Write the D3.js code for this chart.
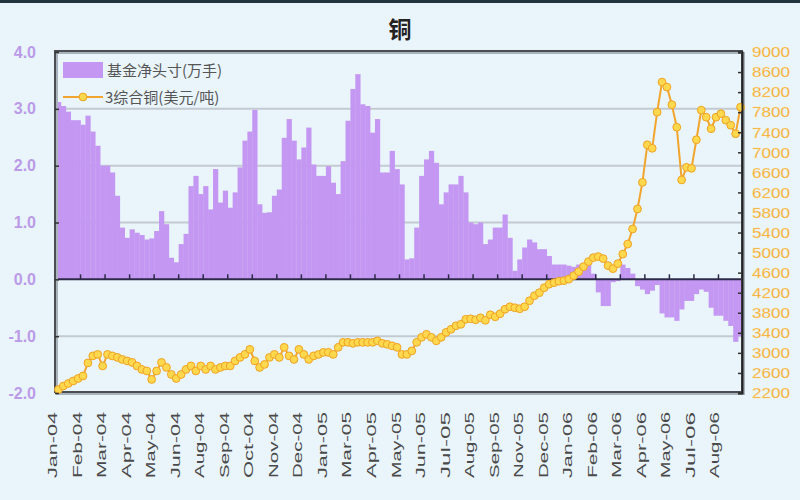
<!DOCTYPE html>
<html><head><meta charset="utf-8">
<script src="https://cdn.jsdelivr.net/npm/d3@7/dist/d3.min.js"></script>
<style>
html,body{margin:0;padding:0;background:#e9f4fb;}
svg{display:block;}
</style></head>
<body>
<svg id="chart" width="800" height="500"></svg>
<script>
// ---------- data ----------
const title = "铜";
const seriesNames = ["基金净头寸(万手)", "3综合铜(美元/吨)"];
// weekly fund net position (10k lots)
const netPosition = [
 3.12,3.05,2.95,2.80,2.80,2.72,2.88,2.60,2.35,2.00,
 2.00,1.88,1.47,0.91,0.73,0.88,0.82,0.78,0.70,0.72,
 0.85,1.20,0.97,0.38,0.30,0.62,0.80,1.64,1.82,1.50,
 1.64,1.23,1.94,1.35,1.56,1.26,1.53,1.97,2.44,2.60,
 2.98,1.32,1.17,1.18,1.47,1.58,2.49,2.82,2.44,2.11,
 2.32,2.67,2.02,1.82,1.82,1.99,1.70,1.50,2.08,2.79,
 3.35,3.61,3.08,3.05,2.58,2.82,1.88,1.88,2.26,1.94,
 1.67,0.35,0.37,0.91,1.82,2.11,2.26,2.05,1.32,1.53,
 1.67,1.67,1.82,1.53,1.00,0.97,1.00,0.62,0.70,0.91,
 0.91,1.14,0.73,0.15,0.35,0.56,0.70,0.65,0.53,0.53,
 0.41,0.26,0.26,0.26,0.24,0.22,0.26,0.22,0.29,0.10,
 -0.23,-0.47,-0.47,-0.05,-0.03,0.26,0.20,0.10,-0.12,-0.18,
 -0.26,-0.20,-0.10,-0.60,-0.67,-0.67,-0.73,-0.53,-0.38,-0.38,
 -0.26,-0.18,-0.22,-0.50,-0.64,-0.64,-0.73,-0.82,-1.10,-1.00
];
// weekly LME 3-month copper (USD/t)
const copperPrice = [
 2270,2340,2390,2440,2490,2540,2800,2940,2970,2740,
 2970,2940,2910,2870,2840,2810,2740,2670,2640,2470,
 2640,2810,2710,2570,2490,2570,2670,2740,2640,2740,
 2670,2740,2670,2710,2740,2740,2840,2910,2970,3070,
 2840,2710,2770,2910,2970,2910,3110,2940,2870,3070,
 2970,2870,2940,2970,3010,3010,2970,3110,3210,3210,
 3190,3210,3210,3210,3210,3240,3190,3170,3140,3110,
 2970,2970,3040,3210,3310,3370,3310,3240,3310,3410,
 3470,3540,3570,3670,3680,3660,3700,3650,3760,3720,
 3780,3870,3920,3900,3880,3920,4040,4140,4200,4300,
 4370,4400,4430,4440,4470,4540,4620,4720,4820,4900,
 4920,4880,4740,4680,4780,4970,5170,5470,5870,6400,
 7150,7080,7800,8400,8300,7950,7500,6450,6700,6680,
 7250,7840,7700,7470,7700,7770,7640,7540,7370,7900
];
const xTickLabels = ["Jan-04","Feb-04","Mar-04","Apr-04","May-04","Jun-04","Aug-04","Sep-04","Oct-04","Nov-04","Dec-04","Jan-05","Mar-05","Apr-05","May-05","Jun-05","Jul-05","Aug-05","Sep-05","Nov-05","Dec-05","Jan-06","Feb-06","Mar-06","Apr-06","May-06","Jul-06","Aug-06"];
const leftTicks = [-2,-1,0,1,2,3,4];
const rightTicks = [2200,2600,3000,3400,3800,4200,4600,5000,5400,5800,6200,6600,7000,7400,7800,8200,8600,9000];

// ---------- layout ----------
const L = 56, R = 743, T = 52, B = 393;
const barColor = "#c497f2";
const lineColor = "#f2a52c";
const cjk = "'Noto Sans CJK SC','Noto Sans',sans-serif";

const svg = d3.select("#chart");
svg.append("rect").attr("width",800).attr("height",500).attr("fill","#e9f4fb");
svg.append("rect").attr("width",800).attr("height",3).attr("fill","#22343e");

const x = d3.scaleBand().domain(d3.range(netPosition.length)).range([L,R]).padding(0);
const yL = d3.scaleLinear().domain([-2,4]).range([B,T]);
const yR = d3.scaleLinear().domain([2200,9000]).range([B,T]);
const bw = x.bandwidth();

// title
svg.append("text").attr("x",400).attr("y",38).attr("text-anchor","middle")
  .attr("font-family",cjk).attr("font-size",23).attr("font-weight","bold").attr("fill","#222").text(title);

// gridlines
svg.append("g").selectAll("line").data([-1,1,2,3]).join("line")
  .attr("x1",L).attr("x2",R).attr("y1",d=>yL(d)).attr("y2",d=>yL(d))
  .attr("stroke","#c3cad2").attr("stroke-width",2);

// bars
svg.append("g").selectAll("rect").data(netPosition).join("rect")
  .attr("x",(d,i)=>x(i)).attr("width",bw+0.3)
  .attr("y",d=>Math.min(yL(d),yL(0))).attr("height",d=>Math.abs(yL(d)-yL(0)))
  .attr("fill",barColor);

// zero axis with ticks every 5 weeks
svg.append("line").attr("x1",L).attr("x2",R).attr("y1",yL(0)).attr("y2",yL(0))
  .attr("stroke","#2c2a48").attr("stroke-width",2);
svg.append("g").selectAll("line").data(d3.range(0,netPosition.length,5)).join("line")
  .attr("x1",d=>x(d)).attr("x2",d=>x(d)).attr("y1",yL(0)).attr("y2",yL(0)-5)
  .attr("stroke","#2c2a48").attr("stroke-width",1.5);

// frame with shadow
svg.append("rect").attr("x",L+1).attr("y",T+1).attr("width",R-L).attr("height",B-T)
  .attr("fill","none").attr("stroke","#a9b3bb").attr("stroke-width",2);
svg.append("rect").attr("x",L-1).attr("y",T-1).attr("width",R-L).attr("height",B-T)
  .attr("fill","none").attr("stroke","#4a4d52").attr("stroke-width",2);

// line + markers
const line = d3.line().x((d,i)=>x(i)+bw/2).y(d=>yR(d));
svg.append("path").datum(copperPrice).attr("d",line).attr("fill","none")
  .attr("stroke",lineColor).attr("stroke-width",2);
svg.append("g").selectAll("circle").data(copperPrice).join("circle")
  .attr("cx",(d,i)=>x(i)+bw/2).attr("cy",d=>yR(d)).attr("r",3.9)
  .attr("fill","#ffd84e").attr("stroke","#f0a324").attr("stroke-width",1);

// left axis
const gl = svg.append("g").attr("transform",`translate(${L-1},0)`)
  .call(d3.axisLeft(yL).tickValues(leftTicks).tickFormat(d=>d.toFixed(1)).tickSize(-4).tickPadding(19));
gl.select(".domain").remove();
gl.selectAll(".tick line").attr("stroke","#333").attr("stroke-width",1.5);
gl.selectAll("text").attr("font-family","Arial, 'Liberation Sans', sans-serif").attr("font-size",16)
  .attr("font-weight","bold").attr("fill","#bb9be8");

// right axis
const gr = svg.append("g").attr("transform",`translate(${R-1},0)`)
  .call(d3.axisRight(yR).tickValues(rightTicks).tickSize(-4).tickPadding(10).tickFormat(d=>String(d)));
gr.select(".domain").attr("stroke","#222").attr("stroke-width",2);
gr.selectAll(".tick line").attr("stroke","#333").attr("stroke-width",1.5);
gr.selectAll("text").attr("font-family","'Liberation Sans Narrow', Arial, sans-serif").attr("font-size",15)
  .attr("fill","#f2a428").attr("textLength",38).attr("lengthAdjust","spacingAndGlyphs")
  .attr("stroke","#ffe6a8").attr("stroke-width",0.3);

// x labels (every 5 weeks)
svg.append("g").selectAll("text").data(xTickLabels).join("text")
  .attr("transform",(d,k)=>`translate(${x(k*5)+1},412) rotate(-90)`)
  .attr("text-anchor","end")
  .attr("font-family","Arial, 'Liberation Sans', sans-serif").attr("font-size",13)
  .attr("fill","#4a4a4a").attr("textLength",66).attr("lengthAdjust","spacingAndGlyphs")
  .text(d=>d);

// legend
const lg = svg.append("g");
lg.append("rect").attr("x",63).attr("y",62).attr("width",40).attr("height",16).attr("fill",barColor);
lg.append("text").attr("x",107).attr("y",76).attr("font-family",cjk).attr("font-size",15).attr("fill","#555").text(seriesNames[0]);
lg.append("line").attr("x1",63).attr("x2",103).attr("y1",97).attr("y2",97).attr("stroke",lineColor).attr("stroke-width",2);
lg.append("circle").attr("cx",83).attr("cy",97).attr("r",3.9).attr("fill","#ffd84e").attr("stroke","#f0a324");
lg.append("text").attr("x",105).attr("y",103).attr("font-family",cjk).attr("font-size",15).attr("fill","#555").text(seriesNames[1]);
</script>
</body></html>
